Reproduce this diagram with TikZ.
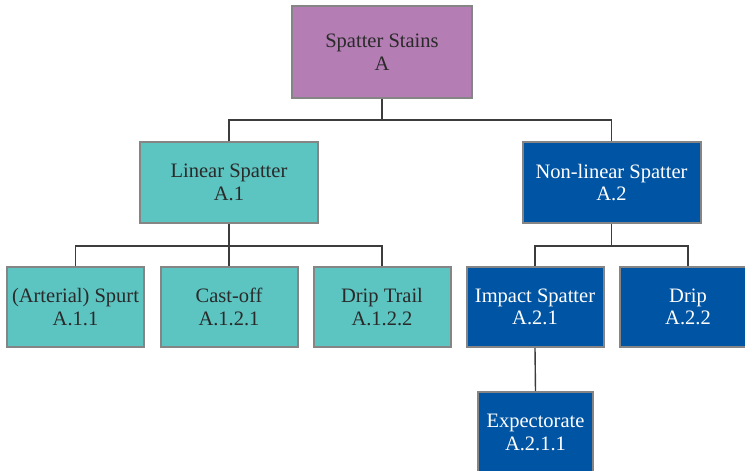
\documentclass[tikz,border=0pt]{standalone}
\usepackage{fontspec}
\setmainfont{Liberation Serif}
\newfontfamily\boxfont{Liberation Serif}
\definecolor{rootfill}{HTML}{B47DB4}
\definecolor{tealfill}{HTML}{5CC4C1}
\definecolor{bluefill}{HTML}{0054A4}
\definecolor{boxedge}{HTML}{858585}
\definecolor{linkline}{HTML}{3C3C3C}
\definecolor{darktext}{HTML}{2A2A2A}
\tikzset{
  box/.style={draw=boxedge, line width=2pt, rectangle, align=center, inner sep=1pt,
    font=\boxfont\fontsize{20.5}{22.5}\selectfont},
  rootbox/.style={box, fill=rootfill, text=darktext, minimum width=180pt, minimum height=92pt},
  midbox/.style={box, minimum width=178pt, minimum height=81pt},
  leafbox/.style={box, minimum width=137pt, minimum height=80pt},
  lightbox/.style={fill=tealfill, text=darktext},
  darkbox/.style={fill=bluefill, text=white},
  link/.style={draw=linkline, line width=1.4pt}
}
\begin{document}
\begin{tikzpicture}[x=1pt,y=1pt]
\useasboundingbox (0,0) rectangle (745,-471);
\clip (0,0) rectangle (745,-471);
% nodes
\node[rootbox] (root) at (382,-52) {Spatter Stains\\A};
\node[midbox, lightbox] (lin) at (229,-182.5) {Linear Spatter\\A.1};
\node[midbox, darkbox] (non) at (611.5,-182.5) {Non-linear Spatter\\A.2};
\node[leafbox, lightbox] (spurt) at (75.5,-307) {(Arterial) Spurt\\A.1.1};
\node[leafbox, lightbox] (cast) at (229,-307) {Cast-off\\A.1.2.1};
\node[leafbox, lightbox] (trail) at (382,-307) {Drip Trail\\A.1.2.2};
\node[leafbox, darkbox] (impact) at (535,-307) {Impact Spatter\\A.2.1};
\node[leafbox, darkbox] (drip) at (688,-307) {Drip\\A.2.2};
\node[box, darkbox, minimum width=115pt, minimum height=81pt] (expect) at (535.5,-432.5) {Expectorate\\A.2.1.1};
% connectors
\draw[link] (root.south) -- ++(0,-21) -| (lin.north);
\draw[link] (root.south) -- ++(0,-21) -| (non.north);
\draw[link] (lin.south) -- ++(0,-22) -| (spurt.north);
\draw[link] (lin.south) -- (cast.north);
\draw[link] (lin.south) -- ++(0,-22) -| (trail.north);
\draw[link] (non.south) -- ++(0,-22) -| (impact.north);
\draw[link] (non.south) -- ++(0,-22) -| (drip.north);
\draw[link] (impact.south) -- (expect.north);
\end{tikzpicture}
\end{document}
